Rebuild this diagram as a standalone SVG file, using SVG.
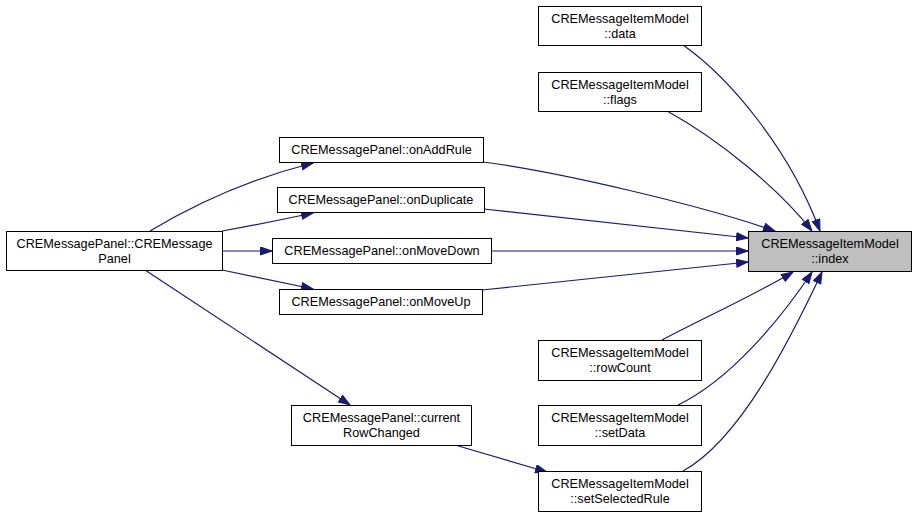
<svg xmlns="http://www.w3.org/2000/svg" width="917" height="517" viewBox="0 0 917 517">
<style>
.n rect{fill:#ffffff;stroke:#000000;stroke-width:1}
.n.hl rect{fill:#bfbfbf}
text{font-family:"Liberation Sans",Arial,sans-serif;font-size:12.7px;fill:#000000;text-anchor:middle}
.e path{fill:none;stroke:#191970;stroke-width:1.2;marker-end:url(#ah)}
</style>
<defs>
<marker id="ah" markerUnits="userSpaceOnUse" markerWidth="13" markerHeight="10" refX="12" refY="4.5" orient="auto" viewBox="0 0 13 10">
<path d="M0.5,0.5 L12,4.5 L0.5,8.5 z" fill="#191970" stroke="#191970" stroke-width="1"/>
</marker>
</defs>
<rect width="917" height="517" fill="#ffffff"/>
<g id="edges" class="e">
<path d="M150,231 C190,207 245,180 313,163"/>
<path d="M222,231 C250,226 285,219 313,213"/>
<path d="M223,251 L272,251"/>
<path d="M222,270 L313,289"/>
<path d="M145,270 L350,405"/>
<path d="M455,445 L547,472"/>
<path d="M483,162 C560,172 700,205 775,231"/>
<path d="M484,209 L748,238"/>
<path d="M491,251 L748,251"/>
<path d="M482,290 L748,262"/>
<path d="M683,45 C730,78 790,150 820,231"/>
<path d="M667,111 C720,140 780,190 812,231"/>
<path d="M662,340 C700,320 760,292 793,272"/>
<path d="M678,405 C730,380 780,320 812,272"/>
<path d="M683,471 C740,440 790,340 822,272"/>
</g>
<g id="n_data" class="n"><rect x="538.5" y="6.5" width="163" height="39"/><text x="620" y="22.5">CREMessageItemModel</text><text x="620" y="37.5">::data</text></g>
<g id="n_flags" class="n"><rect x="538.5" y="72.5" width="163" height="39"/><text x="620" y="88.5">CREMessageItemModel</text><text x="620" y="103.5">::flags</text></g>
<g id="n_index" class="n hl"><rect x="748.5" y="231.5" width="163" height="40"/><text x="830" y="248">CREMessageItemModel</text><text x="830" y="263">::index</text></g>
<g id="n_panel" class="n"><rect x="6.5" y="231.5" width="216" height="39"/><text x="114.5" y="247.5">CREMessagePanel::CREMessage</text><text x="114.5" y="262.5">Panel</text></g>
<g id="n_onAddRule" class="n"><rect x="279.5" y="137.5" width="204" height="25"/><text x="381.5" y="154">CREMessagePanel::onAddRule</text></g>
<g id="n_onDuplicate" class="n"><rect x="277.5" y="187.5" width="207" height="25"/><text x="381" y="204">CREMessagePanel::onDuplicate</text></g>
<g id="n_onMoveDown" class="n"><rect x="272.5" y="238.5" width="219" height="25"/><text x="382" y="255">CREMessagePanel::onMoveDown</text></g>
<g id="n_onMoveUp" class="n"><rect x="279.5" y="289.5" width="203" height="25"/><text x="381" y="306">CREMessagePanel::onMoveUp</text></g>
<g id="n_current" class="n"><rect x="291.5" y="405.5" width="180" height="40"/><text x="381.5" y="422">CREMessagePanel::current</text><text x="381.5" y="437">RowChanged</text></g>
<g id="n_rowCount" class="n"><rect x="538.5" y="340.5" width="163" height="40"/><text x="620" y="357">CREMessageItemModel</text><text x="620" y="372">::rowCount</text></g>
<g id="n_setData" class="n"><rect x="538.5" y="405.5" width="163" height="40"/><text x="620" y="422">CREMessageItemModel</text><text x="620" y="437">::setData</text></g>
<g id="n_setSelectedRule" class="n"><rect x="538.5" y="471.5" width="163" height="40"/><text x="620" y="488">CREMessageItemModel</text><text x="620" y="503">::setSelectedRule</text></g>
</svg>
